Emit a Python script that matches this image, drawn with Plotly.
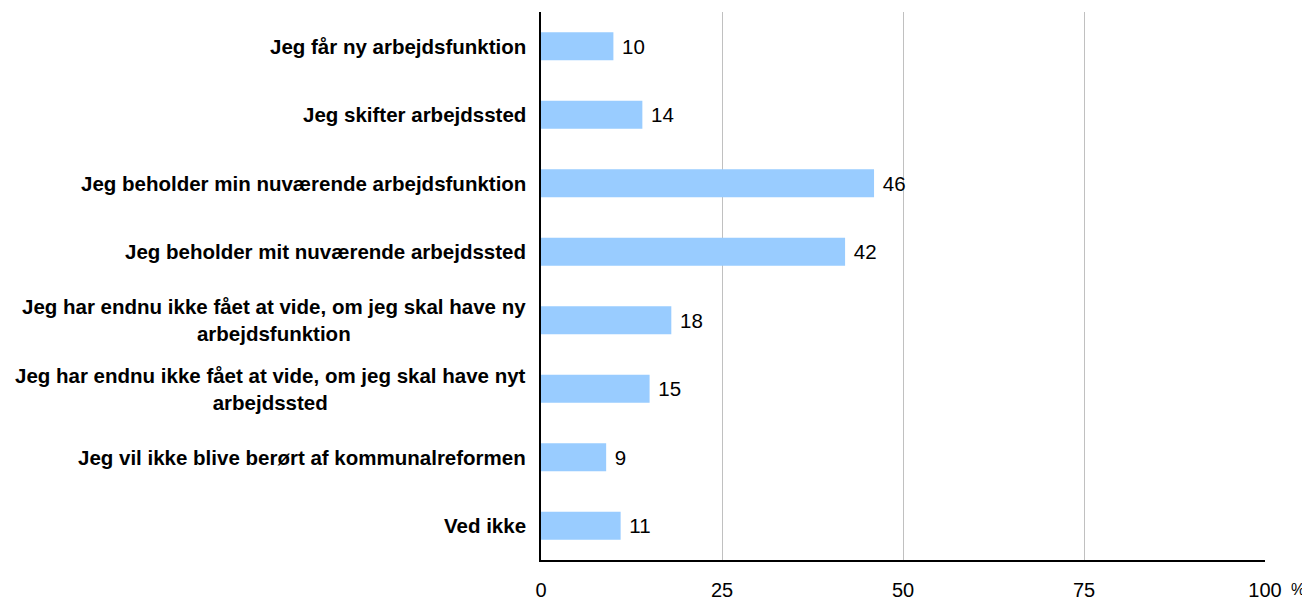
import plotly.graph_objects as go

categories = [
    "Jeg får ny arbejdsfunktion",
    "Jeg skifter arbejdssted",
    "Jeg beholder min nuværende arbejdsfunktion",
    "Jeg beholder mit nuværende arbejdssted",
    "Jeg har endnu ikke fået at vide, om jeg skal have ny<br>arbejdsfunktion",
    "Jeg har endnu ikke fået at vide, om jeg skal have nyt<br>arbejdssted",
    "Jeg vil ikke blive berørt af kommunalreformen",
    "Ved ikke",
]
values = [10, 14, 46, 42, 18, 15, 9, 11]
tick_vals = [0, 25, 50, 75, 100]

FONT = "Liberation Sans, Arial, sans-serif"

fig = go.Figure()
fig.add_trace(go.Bar(
    y=list(range(len(categories))),
    x=values,
    orientation="h",
    marker=dict(color="#99CCFF", line=dict(width=0)),
    width=0.41,
    text=["\u00a0" + str(v) for v in values],
    textposition="outside",
    textfont=dict(family=FONT, size=20.5, color="#000000"),
    cliponaxis=False,
    hoverinfo="skip",
))

for i, c in enumerate(categories):
    fig.add_annotation(
        x=0, xref="paper", y=i, yref="y",
        xanchor="right", yanchor="middle", xshift=-13,
        text="<b>" + c + "</b>", showarrow=False, align="center",
        font=dict(family=FONT, size=20.5, color="#000000"),
    )

fig.add_annotation(
    x=1, xref="paper", y=0, yref="paper", xanchor="left", yanchor="top",
    xshift=24, yshift=-19, text="%", showarrow=False,
    font=dict(family=FONT, size=16, color="#000000"),
)

# page body has an 8px margin, so the figure is sized to fit the window
fig.update_layout(
    width=1302, height=593,
    margin=dict(l=533, r=45, t=4, b=41),
    plot_bgcolor="#FFFFFF", paper_bgcolor="#FFFFFF",
    showlegend=False,
    xaxis=dict(
        range=[0, 100], tickvals=tick_vals, ticktext=[str(t) for t in tick_vals],
        showgrid=True, gridcolor="#C0C0C0", gridwidth=1,
        zeroline=False, showline=True, linecolor="#000000", linewidth=1.5,
        ticks="", ticklabelstandoff=11, automargin=False,
        tickfont=dict(family=FONT, size=20, color="#000000"),
    ),
    yaxis=dict(
        range=[7.5, -0.5], showticklabels=False, showgrid=False,
        zeroline=False, showline=True, linecolor="#000000", linewidth=1.5,
        ticks="", automargin=False,
    ),
)

fig.write_html("out.html")
